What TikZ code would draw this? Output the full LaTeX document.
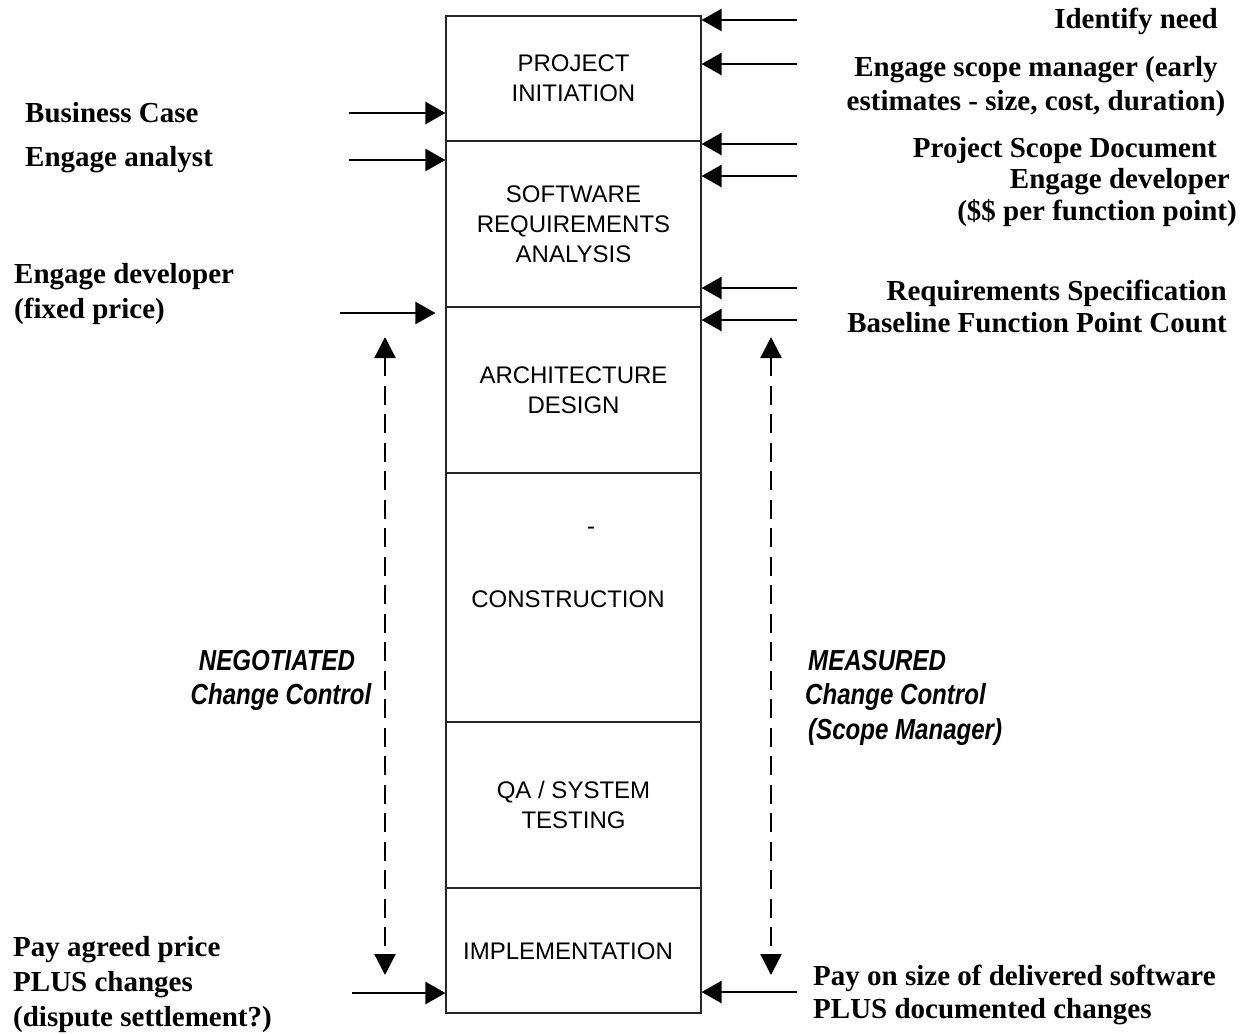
\documentclass[tikz,border=0pt]{standalone}
\usepackage{fontspec}
\setmainfont{Liberation Serif}
\newfontfamily\arialf{Liberation Sans}
\newfontfamily\narrowit[FakeStretch=0.83]{Liberation Sans}
\usetikzlibrary{arrows.meta}
\begin{document}
\begin{tikzpicture}[x=1pt,y=-1pt,
  phase/.style={draw=black!85,line width=1.1pt,minimum width=255pt,inner sep=0pt,
    align=center,font=\arialf\fontsize{24}{30}\selectfont},
  arr/.style={line width=2.2pt,-{Triangle[length=20pt,width=22pt]}},
  darr/.style={line width=2.3pt,dash pattern=on 19pt off 9.5pt,
    {Triangle[length=21pt,width=21pt]}-{Triangle[length=21pt,width=21pt]}},
  lbl/.style={inner sep=0pt,font=\bfseries\fontsize{29}{34}\selectfont},
  ital/.style={inner sep=0pt,font=\narrowit\bfseries\itshape\fontsize{29}{34}\selectfont}]
\useasboundingbox (0,0) rectangle (1241,1034);

% phase boxes
\node[phase,minimum height=125pt] (p1) at (573.5,78.5) {PROJECT\\INITIATION};
\node[phase,minimum height=166pt] (p2) at (573.5,224) {SOFTWARE\\REQUIREMENTS\\ANALYSIS};
\node[phase,minimum height=166pt] (p3) at (573.5,390) {ARCHITECTURE\\DESIGN};
\node[phase,minimum height=249pt] (p4) at (573.5,597.5) {};
\node[phase,minimum height=166pt] (p5) at (573.5,805) {QA / SYSTEM\\TESTING};
\node[phase,minimum height=125pt] (p6) at (573.5,950.5) {};
\node[inner sep=0pt,font=\arialf\fontsize{24}{30}\selectfont,anchor=base] (ctext) at (568,607) {CONSTRUCTION};
\node[inner sep=0pt,font=\arialf\fontsize{24}{30}\selectfont,anchor=base] (cdash) at (591,534) {-};
\node[inner sep=0pt,font=\arialf\fontsize{24}{30}\selectfont,anchor=base] (itext) at (568,959) {IMPLEMENTATION};

% right incoming arrows
\coordinate (r1) at (797,20);
\coordinate (r2) at (797,64);
\coordinate (r3) at (797,144);
\coordinate (r4) at (797,176);
\coordinate (r5) at (797,288);
\coordinate (r6) at (797,320);
\coordinate (r7) at (797,992);
\draw[arr] (r1) -- (r1 -| p1.east);
\draw[arr] (r2) -- (r2 -| p1.east);
\draw[arr] (r3) -- (r3 -| p2.east);
\draw[arr] (r4) -- (r4 -| p2.east);
\draw[arr] (r5) -- (r5 -| p2.east);
\draw[arr] (r6) -- (r6 -| p3.east);
\draw[arr] (r7) -- (r7 -| p6.east);

% left incoming arrows
\coordinate (l1) at (349,113);
\coordinate (l2) at (349,160);
\coordinate (l3) at (340,313);
\coordinate (l4) at (352,993);
\draw[arr] (l1) -- (l1 -| p1.west);
\draw[arr] (l2) -- (l2 -| p2.west);
\draw[arr] (l3) -- ([xshift=-10pt]l3 -| p3.west);
\draw[arr] (l4) -- (l4 -| p6.west);

% dashed change-control arrows
\coordinate (dl1) at (385,337);
\coordinate (dl2) at (385,975);
\coordinate (dr1) at (771,337);
\coordinate (dr2) at (771,975);
\draw[darr] (dl1) -- (dl2);
\draw[darr] (dr1) -- (dr2);

% left labels
\node[lbl,anchor=base west] (bc) at (25,122) {Business Case};
\node[lbl,anchor=base west] (ea) at (25,166) {Engage analyst};
\node[lbl,anchor=base west] (ed1) at (14,283) {Engage developer};
\node[lbl,anchor=base west] (ed2) at (14,318) {(fixed price)};
\node[lbl,anchor=base west] (pa1) at (13,956) {Pay agreed price};
\node[lbl,anchor=base west] (pa2) at (13,991) {PLUS changes};
\node[lbl,anchor=base west] (pa3) at (13,1026) {(dispute settlement?)};

% right labels
\node[lbl,anchor=base east] (idn) at (1218,28) {Identify need};
\node[lbl,anchor=base] (es1) at (1036,76) {Engage scope manager (early};
\node[lbl,anchor=base] (es2) at (1036,110) {estimates - size, cost, duration)};
\node[lbl,anchor=base east] (psd) at (1217,157) {Project Scope Document};
\node[lbl,anchor=base east] (edv1) at (1230,188) {Engage developer};
\node[lbl,anchor=base east] (edv2) at (1237,220) {(\$\$ per function point)};
\node[lbl,anchor=base east] (rs) at (1227,300) {Requirements Specification};
\node[lbl,anchor=base east] (bfp) at (1227,332) {Baseline Function Point Count};
\node[lbl,anchor=base west] (po1) at (813,985) {Pay on size of delivered software};
\node[lbl,anchor=base west] (po2) at (813,1018) {PLUS documented changes};

% change-control labels
\node[ital,anchor=base] (neg1) at (277,670) {NEGOTIATED};
\node[ital,anchor=base] (neg2) at (281,704) {Change Control};
\node[ital,anchor=base west] (mea1) at (808,670) {MEASURED};
\node[ital,anchor=base west] (mea2) at (805,704) {Change Control};
\node[ital,anchor=base west] (mea3) at (808,739) {(Scope Manager)};
\end{tikzpicture}
\end{document}
